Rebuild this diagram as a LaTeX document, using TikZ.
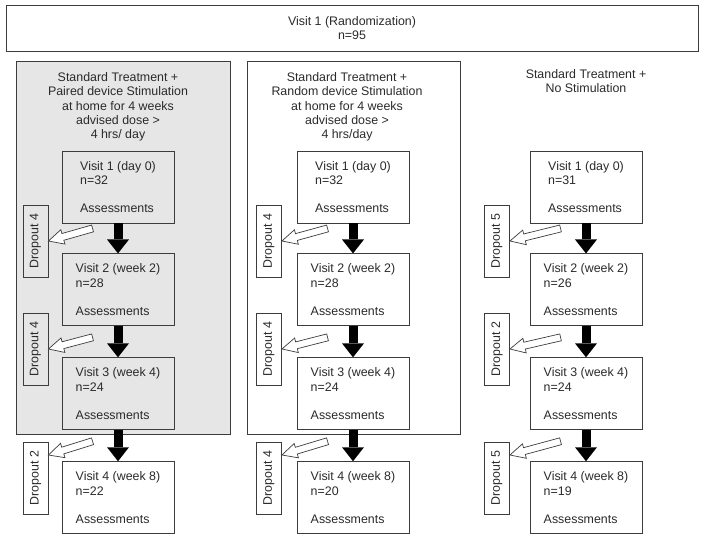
\documentclass[tikz,border=0pt]{standalone}
\usepackage{fontspec}
\setmainfont{Liberation Sans}
\usetikzlibrary{positioning,calc,arrows.meta}
\definecolor{linegray}{HTML}{3C3C3C}
\definecolor{textgray}{HTML}{2A2A2A}
\definecolor{panelgray}{HTML}{E6E6E6}

\begin{document}
\begin{tikzpicture}[x=1pt, y=-1pt, font=\fontsize{12.4}{14.3}\selectfont, text=textgray,
	box/.style={draw=linegray, line width=0.9pt, rectangle, inner sep=0pt},
	visit/.style={box, minimum width=112pt, minimum height=72pt, align=left, text depth=0pt},
	dropout/.style={box, rotate=90, minimum width=72pt, minimum height=25pt},
	flow/.style={black, line width=9pt, -{Triangle[width=22pt, length=14pt, line width=0pt]}},
	hollow/.style={draw=linegray, fill=white, line width=0.7pt, to path={
		($(\tikztostart)!3.5pt!-90:(\tikztotarget)$)
		-- ($(\tikztotarget)!15pt!(\tikztostart)!3.5pt!90:(\tikztostart)$)
		-- ($(\tikztotarget)!15pt!(\tikztostart)!7.5pt!90:(\tikztostart)$)
		-- (\tikztotarget)
		-- ($(\tikztotarget)!15pt!(\tikztostart)!7.5pt!-90:(\tikztostart)$)
		-- ($(\tikztotarget)!15pt!(\tikztostart)!3.5pt!-90:(\tikztostart)$)
		-- ($(\tikztostart)!3.5pt!90:(\tikztotarget)$)
		-- cycle}}]
	\useasboundingbox (0,0) rectangle (704,534);
	\node[box, minimum width=692pt, minimum height=46pt, align=center] (rand) at (352,28) {Visit 1 (Randomization)\\n=95};
	\node[box, fill=panelgray, minimum width=214pt, minimum height=373pt] (paired) at (123,247.5) {};
	\node[box, minimum width=213pt, minimum height=373pt] (random) at (353.5,247.5) {};
	\node[align=center] (head1) at (118,107) {Standard Treatment +\\Paired device Stimulation\\at home for 4 weeks\\advised dose >\\4 hrs/ day};
	\node[align=center] (head2) at (347,107) {Standard Treatment +\\Random device Stimulation\\at home for 4 weeks\\advised dose >\\4 hrs/day};
	\node[align=center] (head3) at (586,81) {Standard Treatment +\\No Stimulation};
	\foreach \i/\cx/\dx/\nA/\nB/\nC/\nD/\oA/\oB/\oC in {1/118/35.5/32/28/24/22/4/4/2, 2/353/269/32/28/24/20/4/4/4, 3/586/497/31/26/24/19/5/2/5}
	{
		\node[visit] (v\i1) at (\cx,187) {Visit 1 (day 0)\\n=\nA\\[14.3pt]Assessments};
		\node[visit, below=30pt of v\i1] (v\i2) {Visit 2 (week 2)\\n=\nB\\[14.3pt]Assessments};
		\node[visit, below=31pt of v\i2] (v\i3) {Visit 3 (week 4)\\n=\nC\\[14.3pt]Assessments};
		\node[visit, below=31pt of v\i3] (v\i4) {Visit 4 (week 8)\\n=\nD\\[14.3pt]Assessments};
		\node[dropout] (d\i1) at (\dx,241) {Dropout \oA};
		\node[dropout] (d\i2) at (\dx,349) {Dropout \oB};
		\node[dropout] (d\i3) at (\dx,478) {Dropout \oC};
		\coordinate (t\i1) at ($(v\i1.south west)+(31,5)$);
		\coordinate (t\i2) at ($(v\i2.south west)+(31,11)$);
		\coordinate (t\i3) at ($(v\i3.south west)+(31,11)$);
		\coordinate (p\i3) at ($(d\i3.south)+(0,-23)$);
		\draw[flow] (v\i1) -- (v\i2);
		\draw[flow] (v\i2) -- (v\i3);
		\draw[flow] (v\i3) -- (v\i4);
		\draw[hollow] (t\i1) to (d\i1.south);
		\draw[hollow] (t\i2) to (d\i2.south);
		\draw[hollow] (t\i3) to (p\i3);
	}
\end{tikzpicture}
\end{document}
